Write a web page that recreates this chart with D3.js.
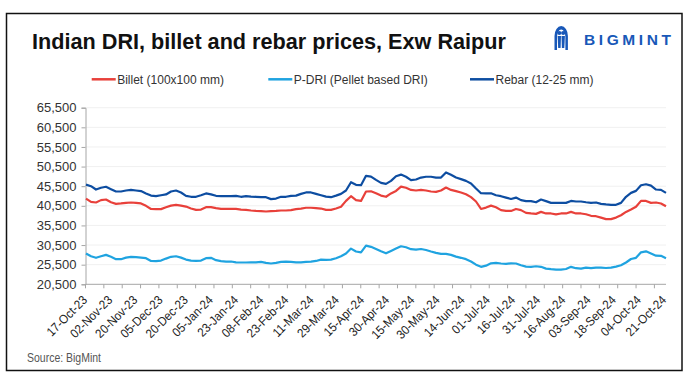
<!DOCTYPE html>
<html>
<head>
<meta charset="utf-8">
<script src="https://cdn.jsdelivr.net/npm/d3@7"></script>
<style>
  html, body { margin: 0; padding: 0; background: #fff; }
  svg { display: block; }
</style>
</head>
<body>
<svg id="chart" width="689" height="380"></svg>
<script>
// ---------- DATA ----------
const xLabels = ["17-Oct-23","02-Nov-23","20-Nov-23","05-Dec-23","20-Dec-23","05-Jan-24","23-Jan-24","08-Feb-24","23-Feb-24","11-Mar-24","29-Mar-24","15-Apr-24","30-Apr-24","15-May-24","30-May-24","14-Jun-24","01-Jul-24","16-Jul-24","31-Jul-24","16-Aug-24","03-Sep-24","18-Sep-24","04-Oct-24","21-Oct-24"];
const yTicks = [20500, 25500, 30500, 35500, 40500, 45500, 50500, 55500, 60500, 65500];
const seriesNames = ["Billet (100x100 mm)", "P-DRI (Pellet based DRI)", "Rebar (12-25 mm)"];

const billet = [
  42350, 41500, 41350, 41950, 42100, 41400, 41000, 41100, 41250, 41350, 41250, 41100, 40500, 39700, 39650, 39650, 40150, 40550, 40750, 40550, 40300, 39800, 39450, 39550, 40150, 40150, 39900, 39700, 39700, 39700, 39700,
  39550, 39450, 39300, 39200, 39150, 39050, 39150, 39200, 39300, 39300, 39400, 39650, 39800, 40000, 40000, 39900, 39800, 39450, 39450, 39800, 40250, 41750, 42950, 41950, 41750, 44150, 44200, 43700, 43100, 42800,
  43650, 44300, 45400, 45100, 44550, 44400, 44550, 44400, 44150, 44050, 44400, 45150, 44550, 44250, 43900, 43450, 42700, 41600, 39700, 40050, 40550, 40150, 39400, 39200, 39200, 39700, 39400, 38700, 38550, 38450,
  38950, 38550, 38550, 38300, 38550, 38550, 38950, 38550, 38550, 38350, 37950, 37850, 37500, 37100, 37100, 37500, 38100, 38950, 39550, 40250, 41750, 41750, 41250, 41350, 41100, 40400
];
const pdri = [
  28350, 27650, 27250, 27650, 28000, 27500, 26900, 26900, 27300, 27500, 27400, 27300, 27150, 26450, 26400, 26550, 27050, 27500, 27650, 27300, 26800, 26550, 26450, 26550, 27150, 27250, 26650, 26400, 26300, 26300, 26100,
  26050, 26050, 26100, 26100, 26200, 25950, 25800, 25950, 26200, 26300, 26200, 26100, 26100, 26200, 26300, 26450, 26800, 26700, 26800, 27150, 27650, 28350, 29600, 28850, 28650, 30350, 30050, 29500, 28900, 28400,
  29000, 29600, 30200, 29950, 29450, 29350, 29500, 29250, 28850, 28500, 28250, 28250, 28000, 27550, 27250, 26900, 26300, 25500, 24950, 25250, 25850, 25950, 25800, 25700, 25850, 25800, 25350, 25000, 24950, 25100,
  24950, 24500, 24350, 24250, 24250, 24400, 24950, 24600, 24500, 24750, 24600, 24750, 24750, 24650, 24750, 25000, 25350, 26050, 26950, 27250, 28650, 28900, 28350, 27800, 27750, 27150
];
const rebar = [
  45900, 45500, 44650, 45100, 45350, 44750, 44150, 44150, 44400, 44550, 44400, 44250, 43650, 43100, 42950, 43200, 43400, 44150, 44400, 43900, 43050, 42800, 42800, 43200, 43650, 43400, 43050, 42950, 42950, 42950, 43050,
  42800, 42950, 42850, 42800, 42700, 42700, 42200, 42350, 42800, 42800, 43050, 43100, 43550, 43900, 43900, 43550, 43200, 42850, 42700, 43100, 43550, 44400, 46500, 45850, 45750, 48150, 47950, 47100, 46350, 46100,
  46850, 48050, 48450, 47900, 47050, 47200, 47700, 47900, 47900, 47700, 47700, 49000, 48400, 47700, 47300, 46850, 46200, 44900, 43700, 43650, 43700, 43200, 42950, 42600, 42250, 42600, 41950, 41700, 41700, 41400,
  42100, 41700, 41250, 41250, 41250, 41250, 41750, 41600, 41600, 41400, 41250, 41350, 41000, 40850, 40750, 40750, 41250, 42800, 43800, 44300, 45750, 46000, 45650, 44650, 44550, 43800
];

// ---------- STYLE ----------
const colors = ["#e8403a", "#1fa3e0", "#0d4da1"];
const svg = d3.select("#chart");
const W = 689, H = 380;
const plot = { left: 85.5, right: 666, top: 107.7, bottom: 284.3 };

svg.append("rect").attr("x", 0).attr("y", 0).attr("width", W).attr("height", H).attr("fill", "#fff");
svg.append("rect").attr("x", 6.5).attr("y", 13.5).attr("width", 675.5).attr("height", 357)
  .attr("fill", "none").attr("stroke", "#111").attr("stroke-width", 1.5);

// title
svg.append("text").attr("x", 32).attr("y", 48.5)
  .attr("font-family", "'Liberation Sans', Arial, sans-serif").attr("font-weight", "bold")
  .attr("font-size", 21.5).attr("fill", "#111")
  .attr("textLength", 474).attr("lengthAdjust", "spacingAndGlyphs")
  .text("Indian DRI, billet and rebar prices, Exw Raipur");

// logo
const logo = svg.append("g").attr("fill", "#1858b8");
logo.append("path")
  .attr("d", "M554.5,50 L554.5,36 A6.7,10 0 0 1 567.9,36 L567.9,50 L565.4,50 L565.4,37 A4.2,7.5 0 0 0 557,37 L557,50 Z");
logo.append("circle").attr("cx", 559.3).attr("cy", 33).attr("r", 2.1);
logo.append("circle").attr("cx", 563.2).attr("cy", 33).attr("r", 2.1);
logo.append("path").attr("d", "M557.6,36 L561,36 L560.6,48 L558.2,48 Z");
logo.append("path").attr("d", "M561.5,36 L564.9,36 L564.3,48 L561.9,48 Z");
logo.append("text").attr("x", 584).attr("y", 44.5)
  .attr("font-family", "'Liberation Sans', Arial, sans-serif").attr("font-weight", "bold")
  .attr("font-size", 15.5).attr("textLength", 87).attr("lengthAdjust", "spacing")
  .text("BIGMINT");

// legend
const legendX = [91.7, 268.3, 470];
seriesNames.forEach((name, i) => {
  const g = svg.append("g");
  g.append("line").attr("x1", legendX[i]).attr("x2", legendX[i] + 24)
    .attr("y1", 79.3).attr("y2", 79.3).attr("stroke", colors[i]).attr("stroke-width", 2.5);
  g.append("text").attr("x", legendX[i] + 25.5).attr("y", 83.5)
    .attr("font-family", "'Liberation Sans', Arial, sans-serif").attr("font-size", 12)
    .attr("fill", "#333").text(name);
});

// scales
const y = d3.scaleLinear().domain([20500, 65500]).range([plot.bottom, plot.top]);
const x = d3.scaleLinear().domain([0, billet.length - 1]).range([plot.left + 0.5, plot.right]);
const xLab = d3.scalePoint().domain(xLabels).range([88, 667]);
const nTicks = 32;
const xTick = d3.scaleLinear().domain([0, nTicks - 1]).range([plot.left, 654.4]);

// gridlines
svg.append("g").selectAll("line").data(yTicks.slice(1)).join("line")
  .attr("x1", plot.left).attr("x2", plot.right)
  .attr("y1", d => y(d)).attr("y2", d => y(d))
  .attr("stroke", "#f0f0f0").attr("stroke-width", 1);

// y axis
const yAxis = svg.append("g").attr("transform", `translate(${plot.left},0)`)
  .call(d3.axisLeft(y).tickValues(yTicks).tickFormat(d3.format(",")).tickSize(4).tickPadding(5));
yAxis.select(".domain").attr("stroke", "#a6a6a6");
yAxis.selectAll(".tick line").attr("stroke", "#a6a6a6");
yAxis.selectAll("text").attr("font-family", "'Liberation Sans', Arial, sans-serif")
  .attr("font-size", 13).attr("fill", "#333");

// x axis
svg.append("line").attr("x1", plot.left).attr("x2", plot.right)
  .attr("y1", plot.bottom).attr("y2", plot.bottom).attr("stroke", "#a6a6a6");
svg.append("g").selectAll("line").data(d3.range(nTicks)).join("line")
  .attr("x1", d => xTick(d)).attr("x2", d => xTick(d))
  .attr("y1", plot.bottom).attr("y2", plot.bottom + 4).attr("stroke", "#a6a6a6");
const xl = svg.append("g").selectAll("text").data(xLabels).join("text")
  .attr("transform", d => `translate(${xLab(d)},${plot.bottom + 16.5}) rotate(-45)`)
  .attr("text-anchor", "end")
  .attr("font-family", "'Liberation Sans', Arial, sans-serif")
  .attr("font-size", 11.5).attr("fill", "#222")
  .text(d => d);
// narrow-style glyphs: taller font, same width
xl.each(function() {
  const len = this.getComputedTextLength();
  d3.select(this).attr("font-size", 12.5).attr("textLength", len).attr("lengthAdjust", "spacingAndGlyphs");
});

// lines
const line = d3.line().x((d, i) => x(i)).y(d => y(d));
[billet, pdri, rebar].forEach((s, i) => {
  svg.append("path").datum(s).attr("d", line)
    .attr("fill", "none").attr("stroke", colors[i]).attr("stroke-width", 2.2)
    .attr("stroke-linejoin", "round");
});

// source
svg.append("text").attr("x", 27).attr("y", 361.5)
  .attr("font-family", "'Liberation Sans', Arial, sans-serif")
  .attr("font-size", 13.5).attr("fill", "#555")
  .attr("textLength", 74).attr("lengthAdjust", "spacingAndGlyphs")
  .text("Source: BigMint");
</script>
</body>
</html>
